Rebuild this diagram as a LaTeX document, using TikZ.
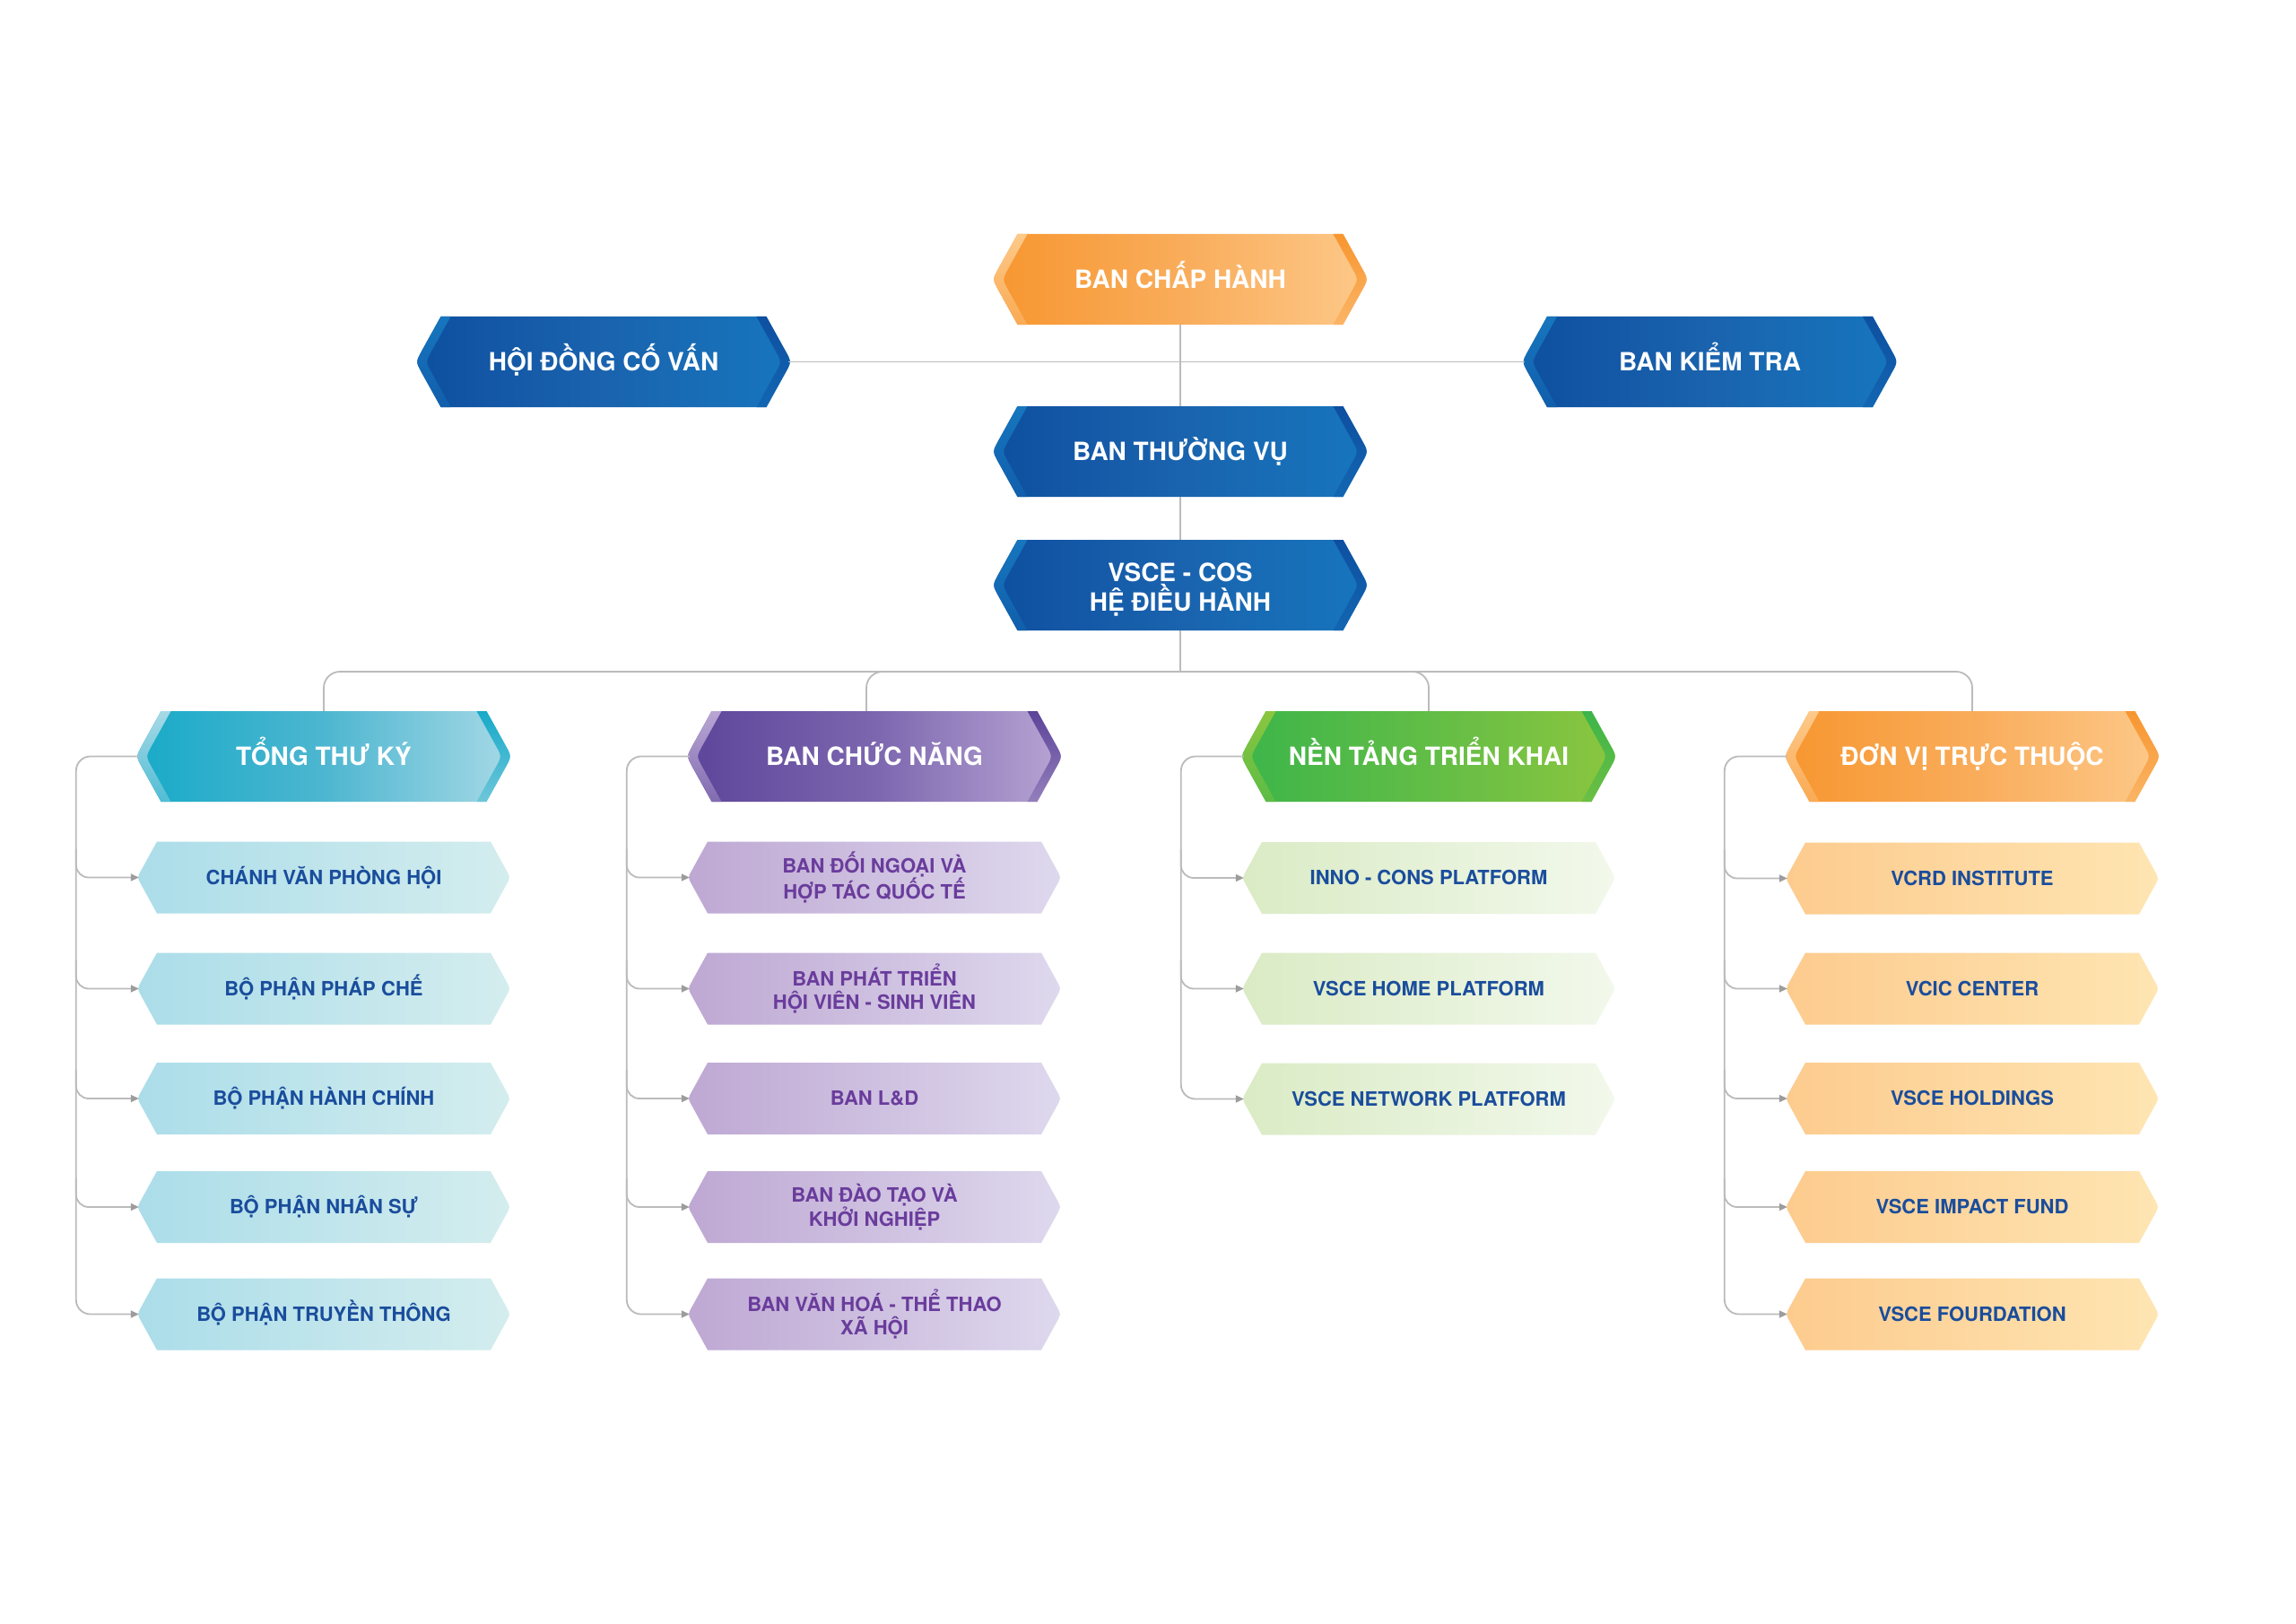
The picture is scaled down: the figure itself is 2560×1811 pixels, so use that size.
\documentclass[tikz,border=0pt]{standalone}
\usepackage{fontspec}
\setmainfont{TeX Gyre Heros}
\usetikzlibrary{arrows.meta,calc}
% main gradients (A left, B middle, C right)
\definecolor{blueA}{HTML}{0E4FA0}\definecolor{blueB}{HTML}{1A63AE}\definecolor{blueC}{HTML}{1676BE}
\definecolor{orA}{HTML}{F7962F}\definecolor{orB}{HTML}{F9AC5A}\definecolor{orC}{HTML}{FDC98A}
\definecolor{tealA}{HTML}{17AAC8}\definecolor{tealB}{HTML}{4DB6D0}\definecolor{tealC}{HTML}{A7D9E6}
\definecolor{purA}{HTML}{5C4499}\definecolor{purB}{HTML}{7C66AF}\definecolor{purC}{HTML}{B9A6D4}
\definecolor{grA}{HTML}{3CB54A}\definecolor{grB}{HTML}{62BD46}\definecolor{grC}{HTML}{8CC63F}
% child gradients
\definecolor{tchA}{HTML}{ABDDE9}\definecolor{tchC}{HTML}{D4EDEE}
\definecolor{pchA}{HTML}{BEA8D3}\definecolor{pchC}{HTML}{DED8ED}
\definecolor{gchA}{HTML}{DAEBC5}\definecolor{gchC}{HTML}{F2F8EB}
\definecolor{ochA}{HTML}{FDCB8E}\definecolor{ochC}{HTML}{FEE5B2}
\definecolor{txtblue}{HTML}{1A4D9C}
\definecolor{txtpurple}{HTML}{6A3C9C}
\definecolor{linegray}{HTML}{BBBBBB}
\definecolor{arrowgray}{HTML}{9C9C9C}
\def\hexouter{(-181.5,-50.5) -- (181.5,-50.5) -- (202.5,-12.6) .. controls (209.5,0) .. (202.5,12.6) -- (181.5,50.5) -- (-181.5,50.5) -- (-202.5,12.6) .. controls (-209.5,0) .. (-202.5,-12.6) -- cycle}
\def\hexlband{(-181.5,-50.5) -- (-209.5,0) -- (-181.5,50.5) -- (-170.5,50.5) -- (-191.5,12.6) .. controls (-198.5,0) .. (-191.5,-12.6) -- (-170.5,-50.5) -- cycle}
\def\hexrband{(181.5,-50.5) -- (209.5,0) -- (181.5,50.5) -- (170.5,50.5) -- (191.5,12.6) .. controls (198.5,0) .. (191.5,-12.6) -- (170.5,-50.5) -- cycle}
\def\childouter{(-186,-40) -- (186,-40) -- (203.6,-8) .. controls (208,0) .. (203.6,8) -- (186,40) -- (-186,40) -- (-203.6,8) .. controls (-208,0) .. (-203.6,-8) -- cycle}
\newcommand\headbox[5]{%
  \begin{scope}[shift={#2}]
    \begin{scope}
      \clip \hexouter;
      \shade[left color=#3A, right color=#3C, middle color=#3B] (-212,-52) rectangle (212,52);
      \shade[top color=#3C, bottom color=#3C!40!#3A] \hexlband;
      \shade[top color=#3A, bottom color=#3A!40!#3C] \hexrband;
    \end{scope}
  \end{scope}
  \node[headtxt,#4] (#1) at #2 {#5};
}
\newcommand\childbox[5]{%
  \shade[shift={#2}, left color=#3A, right color=#3C] \childouter;
  \node[childtxt,#4] (#1) at #2 {#5};
}
\tikzset{
  conn/.style={draw=linegray, line width=1.8pt},
  arr/.style={-{Triangle[length=9pt,width=8pt,color=arrowgray]}},
  headtxt/.style={minimum width=412pt, minimum height=101pt, inner sep=0pt, text=white,
    font=\bfseries\fontsize{28}{33}\selectfont, align=center},
  oneH/.style={text height=20.1pt, text depth=0pt},
  childtxt/.style={minimum width=412pt, minimum height=80pt, inner sep=0pt,
    font=\bfseries\fontsize{22}{25.5}\selectfont, align=center},
  oneC/.style={text height=15.8pt, text depth=0pt},
  bl/.style={text=txtblue},
  pu/.style={text=txtpurple},
}
\begin{document}
\begin{tikzpicture}[x=1pt,y=-1pt]
\fill[white] (0,0) rectangle (2560,1811);
\useasboundingbox (0,0) rectangle (2560,1811);
% top part
\headbox{chap}{(1316,311.5)}{or}{oneH}{BAN CHẤP HÀNH}
\headbox{hd}{(673,403.5)}{blue}{oneH}{HỘI ĐỒNG CỐ VẤN}
\headbox{kt}{(1906.5,403.5)}{blue}{oneH}{BAN KIỂM TRA}
\headbox{tv}{(1316,503.5)}{blue}{oneH}{BAN THƯỜNG VỤ}
\headbox{vsce}{(1316,652.5)}{blue}{}{}
\node[headtxt, minimum width=0pt, minimum height=0pt, yshift=-5pt] (vscetxt) at (vsce) {VSCE - COS\\HỆ ĐIỀU HÀNH};
% column headers
\headbox{h1}{(361,843.5)}{teal}{oneH}{TỔNG THƯ KÝ}
\headbox{h2}{(975,843.5)}{pur}{oneH}{BAN CHỨC NĂNG}
\headbox{h3}{(1593,843.5)}{gr}{oneH}{NỀN TẢNG TRIỂN KHAI}
\headbox{h4}{(2199,843.5)}{or}{oneH}{ĐƠN VỊ TRỰC THUỘC}
% column 1
\childbox{c11}{(361,978.5)}{tch}{bl,oneC}{CHÁNH VĂN PHÒNG HỘI}
\childbox{c12}{(361,1102.5)}{tch}{bl,oneC}{BỘ PHẬN PHÁP CHẾ}
\childbox{c13}{(361,1225)}{tch}{bl,oneC}{BỘ PHẬN HÀNH CHÍNH}
\childbox{c14}{(361,1346)}{tch}{bl,oneC}{BỘ PHẬN NHÂN SỰ}
\childbox{c15}{(361,1465.5)}{tch}{bl,oneC}{BỘ PHẬN TRUYỀN THÔNG}
% column 2
\childbox{c21}{(975,978.5)}{pch}{pu}{BAN ĐỐI NGOẠI VÀ\\HỢP TÁC QUỐC TẾ}
\childbox{c22}{(975,1102.5)}{pch}{pu}{BAN PHÁT TRIỂN\\HỘI VIÊN - SINH VIÊN}
\childbox{c23}{(975,1225)}{pch}{pu,oneC}{BAN L\&D}
\childbox{c24}{(975,1346)}{pch}{pu}{BAN ĐÀO TẠO VÀ\\KHỞI NGHIỆP}
\childbox{c25}{(975,1465.5)}{pch}{pu}{BAN VĂN HOÁ - THỂ THAO\\XÃ HỘI}
% column 3
\childbox{c31}{(1593,979)}{gch}{bl,oneC}{INNO - CONS PLATFORM}
\childbox{c32}{(1593,1102.5)}{gch}{bl,oneC}{VSCE HOME PLATFORM}
\childbox{c33}{(1593,1225.5)}{gch}{bl,oneC}{VSCE NETWORK PLATFORM}
% column 4
\childbox{c41}{(2199,979.5)}{och}{bl,oneC}{VCRD INSTITUTE}
\childbox{c42}{(2199,1102.5)}{och}{bl,oneC}{VCIC CENTER}
\childbox{c43}{(2199,1225)}{och}{bl,oneC}{VSCE HOLDINGS}
\childbox{c44}{(2199,1346)}{och}{bl,oneC}{VSCE IMPACT FUND}
\childbox{c45}{(2199,1465.5)}{och}{bl,oneC}{VSCE FOURDATION}
% connectors
\coordinate (bus) at (1316,749);
\draw[conn] (hd.east) -- (kt.west);
\draw[conn] (chap.south) -- (tv.north);
\draw[conn] (tv.south) -- (vsce.north);
\draw[conn] (vsce.south) -- (bus);
\draw[conn, rounded corners=18pt] (h1.north) |- (bus) -| (h4.north);
\draw[conn, rounded corners=18pt] (bus) -| ([xshift=-9pt]h2.north);
\draw[conn, rounded corners=18pt] (bus) -| (h3.north);
\foreach \c/\n in {1/5,2/5,3/3,4/5}{
  \draw[conn, arr, rounded corners=16pt] (h\c.west) -| ($(c\c\n.west)+(-70,0)$) -- (c\c\n.west);
  \pgfmathtruncatemacro{\last}{\n-1}
  \foreach \i in {1,...,\last}{
    \draw[conn, arr, rounded corners=14pt] ($(c\c\i.west)+(-70,-32)$) |- (c\c\i.west);
  }
}
\end{tikzpicture}
\end{document}
